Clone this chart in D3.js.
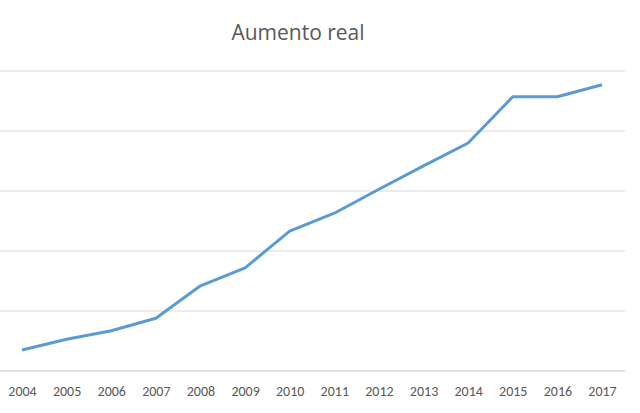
<!DOCTYPE html>
<html><head><meta charset="utf-8">
<script src="https://cdn.jsdelivr.net/npm/d3@7"></script>
<style>body{margin:0;background:#fff}</style></head>
<body><svg id="c" width="640" height="413"></svg>
<script>
const years = ["2004","2005","2006","2007","2008","2009","2010","2011","2012","2013","2014","2015","2016","2017"];
const values = [0.35,0.53,0.67,0.88,1.42,1.72,2.33,2.63,3.03,3.42,3.8,4.57,4.57,4.77];
const yTicks = [0,1,2,3,4,5];
const svg = d3.select("#c");
const x = d3.scalePoint().domain(years).range([22,602]);
const y = d3.scaleLinear().domain([0,5]).range([371,71]);
svg.append("g").selectAll("line").data(yTicks).join("line")
  .attr("x1",0).attr("x2",625).attr("y1",d=>y(d)).attr("y2",d=>y(d))
  .attr("stroke",d=>d===0?"#bfbfbf":"#d9d9d9").attr("stroke-width",1);
const ax = svg.append("g").attr("transform","translate(0,371)")
  .call(d3.axisBottom(x).tickSize(0).tickPadding(15));
ax.select(".domain").remove();
ax.selectAll("text").attr("font-family","Calibri, Carlito, 'Open Sans', sans-serif").attr("font-size",14).attr("fill","#595959");
svg.append("path").datum(values)
  .attr("d",d3.line().x((d,i)=>x(years[i])).y(d=>y(d)))
  .attr("fill","none").attr("stroke","#5b9bd5").attr("stroke-width",3).attr("stroke-linejoin","round");
svg.append("text").attr("x",298).attr("y",40).attr("text-anchor","middle")
  .attr("font-family","'Open Sans', sans-serif").attr("font-size",21).attr("fill","#595959").text("Aumento real");
</script></body></html>
